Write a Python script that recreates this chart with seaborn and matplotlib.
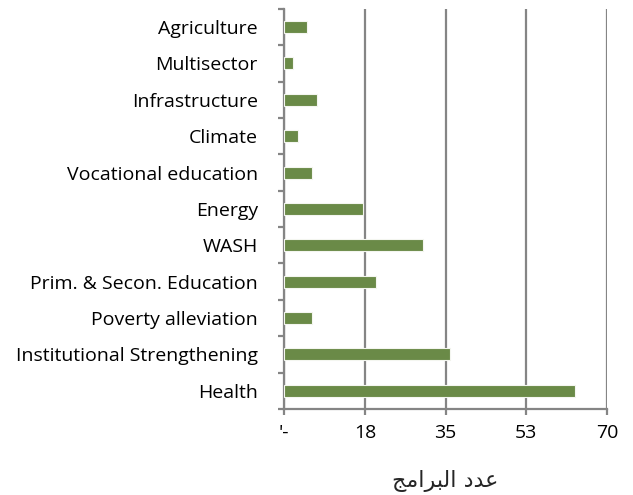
import matplotlib
matplotlib.use("Agg")
import matplotlib.pyplot as plt
import seaborn as sns
import pandas as pd
import numpy as np

# data, top to bottom as in the chart
sectors = [
    "Agriculture", "Multisector", "Infrastructure", "Climate",
    "Vocational education", "Energy", "WASH", "Prim. & Secon. Education",
    "Poverty alleviation", "Institutional Strengthening", "Health",
]
programmes = [5, 2, 7, 3, 6, 17, 30, 20, 6, 36, 63]
x_ticks = [0, 17.5, 35, 52.5, 70]
x_tick_labels = ["'-", "18", "35", "53", "70"]
x_label = "عدد البرامج"

BAR_COLOR = "#6a8a47"
GRID_COLOR = "#858585"


def shape_arabic(text):
    """Minimal Arabic shaping for the axis label (matplotlib has no shaping)."""
    # letter -> (isolated, final, initial, medial); None if no joining form
    forms = {
        "ع": ("\uFEC9", "\uFECA", "\uFECB", "\uFECC"),
        "د": ("\uFEA9", "\uFEAA", None, None),
        "ا": ("\uFE8D", "\uFE8E", None, None),
        "ل": ("\uFEDD", "\uFEDE", "\uFEDF", "\uFEE0"),
        "ب": ("\uFE8F", "\uFE90", "\uFE91", "\uFE92"),
        "ر": ("\uFEAD", "\uFEAE", None, None),
        "م": ("\uFEE1", "\uFEE2", "\uFEE3", "\uFEE4"),
        "ج": ("\uFE9D", "\uFE9E", "\uFE9F", "\uFEA0"),
    }
    out = []
    for i, ch in enumerate(text):
        if ch not in forms:
            out.append(ch)
            continue
        prev = text[i - 1] if i > 0 else " "
        nxt = text[i + 1] if i + 1 < len(text) else " "
        joins_prev = prev in forms and forms[prev][2] is not None
        joins_next = nxt in forms and forms[ch][2] is not None
        iso, fin, ini, med = forms[ch]
        if joins_prev and joins_next:
            out.append(med)
        elif joins_prev:
            out.append(fin)
        elif joins_next:
            out.append(ini)
        else:
            out.append(iso)
    return "".join(out)[::-1]


df = pd.DataFrame({"sector": sectors, "n": programmes})

sns.set_style("white")
plt.rcParams["font.family"] = ["Open Sans", "DejaVu Sans"]

fig = plt.figure(figsize=(6.33, 4.95), dpi=100)
ax = fig.add_axes([0.449, 0.174, 0.51, 0.808])

sns.barplot(data=df, x="n", y="sector", orient="h", color=BAR_COLOR,
            width=0.33, edgecolor="#f4f6f0", linewidth=0.8, saturation=1,
            ax=ax, zorder=3)

ax.set_xlim(0, 70)
ax.set_ylim(len(sectors) - 0.5, -0.5)
ax.set_xticks(x_ticks)
ax.set_xticklabels(x_tick_labels, fontsize=14)
ax.set_yticks(range(len(sectors)))
ax.set_yticklabels(sectors, fontsize=14)
ax.set_yticks(np.arange(-0.5, len(sectors)), minor=True)

ax.xaxis.grid(True, color=GRID_COLOR, linewidth=1.6, zorder=0)
ax.yaxis.grid(False)
ax.set_axisbelow(True)

for side in ["top", "right"]:
    ax.spines[side].set_visible(False)
for side in ["left", "bottom"]:
    ax.spines[side].set_color(GRID_COLOR)
    ax.spines[side].set_linewidth(1.6)

ax.tick_params(axis="y", which="major", length=0, pad=19, colors="black")
ax.tick_params(axis="y", which="minor", length=4, width=1.6, color=GRID_COLOR,
               direction="out", left=True)
ax.tick_params(axis="x", which="major", length=4, width=1.6, color=GRID_COLOR,
               direction="out", bottom=True, pad=7, labelcolor="black")

ax.set_ylabel("")
ax.set_xlabel(shape_arabic(x_label), fontsize=16, family="DejaVu Sans",
              labelpad=20)

fig.savefig("out.png", dpi=100)
